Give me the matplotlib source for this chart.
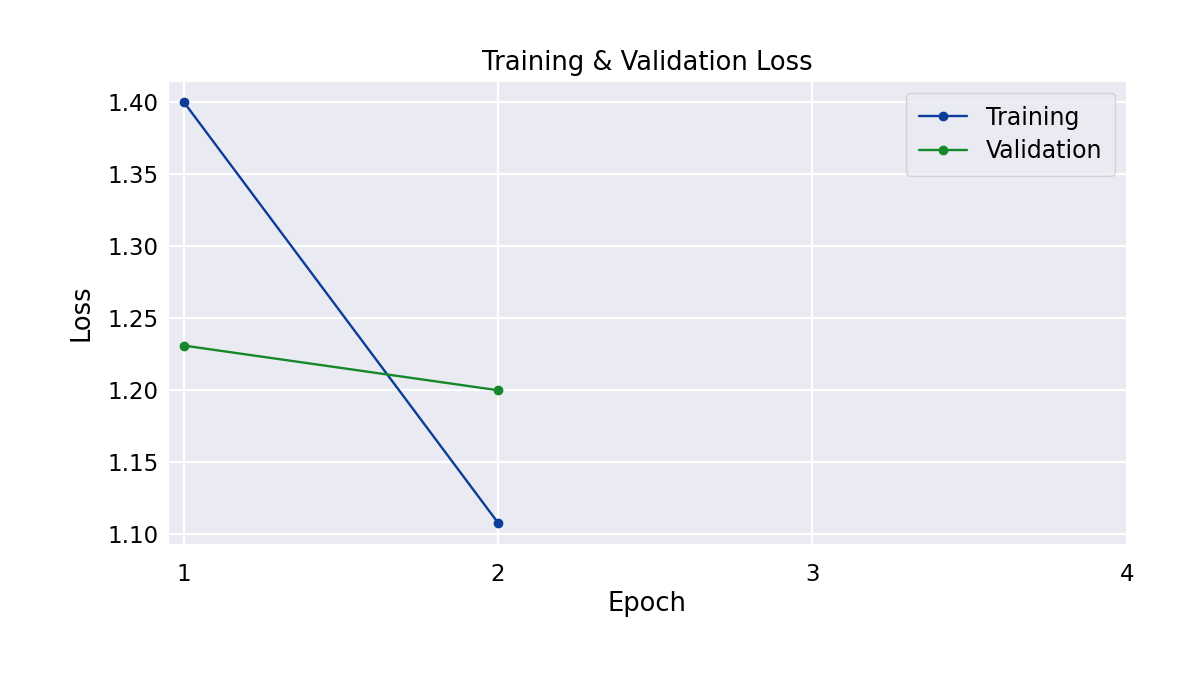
"""Training and validation loss curves."""

import matplotlib.pyplot as plt
import seaborn as sns

epochs = [1, 2]
train_loss = [1.400, 1.108]
val_loss = [1.231, 1.200]
epoch_ticks = [1, 2, 3, 4]

sns.set_style("darkgrid")
plt.rcParams["font.family"] = ["DejaVu Sans"]
plt.rcParams["text.color"] = "black"
plt.rcParams["axes.labelcolor"] = "black"
plt.rcParams["xtick.color"] = "black"
plt.rcParams["ytick.color"] = "black"

fig = plt.figure(figsize=(12, 6.74), dpi=100)
ax = fig.add_axes([0.14, 0.193, 0.799, 0.687])

ax.plot(epochs, train_loss, marker="o", markersize=6, linewidth=1.7, color="#0b3c9a", label="Training")
ax.plot(epochs, val_loss, marker="o", markersize=6, linewidth=1.7, color="#15882a", label="Validation")

ax.set_xticks(epoch_ticks)
ax.grid(color="white", linewidth=1.6)
ax.set_title("Training & Validation Loss", fontsize=18.5, pad=8)
ax.set_xlabel("Epoch", fontsize=18.5, labelpad=4)
ax.set_ylabel("Loss", fontsize=18.5, labelpad=9)
ax.tick_params(labelsize=16.5)
ax.tick_params(axis="x", pad=10)
ax.legend(fontsize=17, loc="upper right", borderpad=0.55, labelspacing=0.4)

fig.savefig("out.png", dpi=100)
